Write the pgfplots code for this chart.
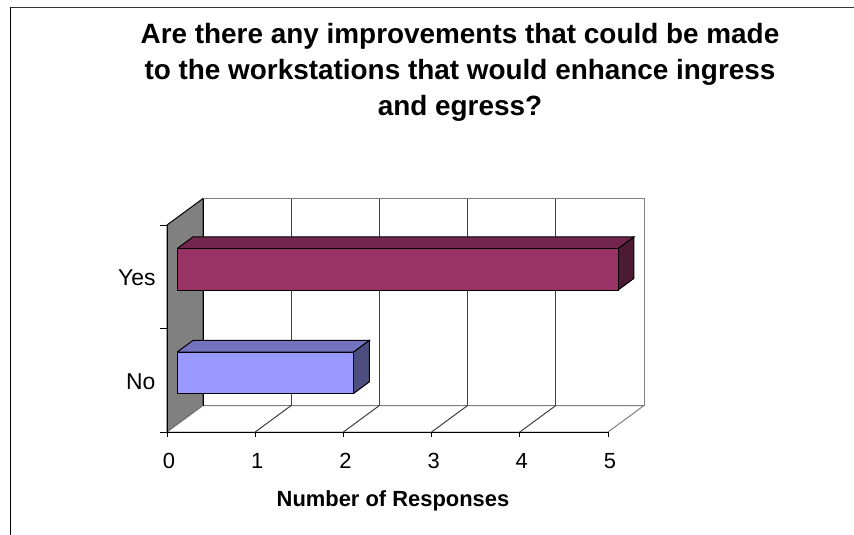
\documentclass[border=0pt]{standalone}
\usepackage{fontspec}
\setmainfont{Liberation Sans}
\usepackage{pgfplots}
\pgfplotsset{compat=1.18}
\definecolor{yesfront}{HTML}{993366}
\definecolor{yestop}{HTML}{73264D}
\definecolor{yesside}{HTML}{4D1A33}
\definecolor{nofront}{HTML}{9999FF}
\definecolor{notop}{HTML}{7373BF}
\definecolor{noside}{HTML}{4D4D80}
\definecolor{wallgray}{HTML}{808080}
\begin{document}
\begin{tikzpicture}[x=1bp,y=1bp]
\path[use as bounding box] (0,0) rectangle (854,-535);
\draw[black, line width=1bp] (10.5,-535) -- (10.5,-7.5);
\draw[black!80, line width=1.5bp] (10.5,-7.5) -- (854,-7.5);
\node[font=\fontsize{28}{34}\selectfont\bfseries, anchor=base] at (460,-44) {Are there any improvements that could be made};
\node[font=\fontsize{28}{34}\selectfont\bfseries, anchor=base] at (460,-80) {to the workstations that would enhance ingress};
\node[font=\fontsize{28}{34}\selectfont\bfseries, anchor=base] at (460,-116) {and egress?};
\node[font=\fontsize{22}{26}\selectfont\bfseries, anchor=base] at (393,-506) {Number of Responses};
\begin{axis}[
  anchor=origin, at={(167bp,-432bp)},
  x={(88.2bp,0bp)}, y={(0bp,103.5bp)}, z={(36bp,26.5bp)},
  xmin=0, xmax=5, ymin=0, ymax=2, zmin=0, zmax=1,
  hide axis, clip=false, no markers,
  every axis plot/.append style={line width=1bp, line join=miter},
]
% side wall
\addplot3[fill=wallgray, draw=black] coordinates {(0,0,0) (0,2,0) (0,2,1) (0,0,1) (0,0,0)};
% back wall
\addplot3[fill=white, draw=wallgray] coordinates {(0,0,1) (5,0,1) (5,2,1) (0,2,1) (0,0,1)};
% floor
\addplot3[fill=white, draw=wallgray] coordinates {(0,0,0) (5,0,0) (5,0,1) (0,0,1) (0,0,0)};
% grid lines on back wall and floor
\pgfplotsinvokeforeach{1,...,4}{
  \addplot3[draw=black!75] coordinates {(#1,0,1) (#1,2,1)};
  \addplot3[draw=black!75] coordinates {(#1,0,0) (#1,0,1)};
}
\addplot3[draw=black] coordinates {(0,2,1) (0,0,1)};
% front axis lines
\addplot3[draw=black] coordinates {(0,0,0) (5,0,0)};
\addplot3[draw=black] coordinates {(0,0,0) (0,2,0)};
\pgfplotsinvokeforeach{0,...,5}{
  \draw[black, line width=1bp] (axis cs:#1,0,0) -- ++(0,-5bp);
  \node[anchor=base, font=\fontsize{22}{26}\selectfont, xshift=2bp, yshift=-36bp] at (axis cs:#1,0,0) {#1};
}
\pgfplotsinvokeforeach{0,1,2}{
  \draw[black, line width=1bp] (axis cs:0,#1,0) -- ++(-7bp,0);
}
\node[anchor=base east, font=\fontsize{23}{27}\selectfont, xshift=-8bp, yshift=-9bp] at (axis cs:0,1.5,0) {Yes};
\node[anchor=base east, font=\fontsize{23}{27}\selectfont, xshift=-8bp, yshift=-9.5bp] at (axis cs:0,0.5,0) {No};
% bar: No = 2
\addplot3[fill=notop, draw=black] coordinates {(0,0.7,0.28) (2,0.7,0.28) (2,0.7,0.72) (0,0.7,0.72) (0,0.7,0.28)};
\addplot3[fill=noside, draw=black] coordinates {(2,0.3,0.28) (2,0.3,0.72) (2,0.7,0.72) (2,0.7,0.28) (2,0.3,0.28)};
\addplot3[fill=nofront, draw=black] coordinates {(0,0.3,0.28) (2,0.3,0.28) (2,0.7,0.28) (0,0.7,0.28) (0,0.3,0.28)};
% bar: Yes = 5
\addplot3[fill=yestop, draw=black] coordinates {(0,1.7,0.28) (5,1.7,0.28) (5,1.7,0.72) (0,1.7,0.72) (0,1.7,0.28)};
\addplot3[fill=yesside, draw=black] coordinates {(5,1.3,0.28) (5,1.3,0.72) (5,1.7,0.72) (5,1.7,0.28) (5,1.3,0.28)};
\addplot3[fill=yesfront, draw=black] coordinates {(0,1.3,0.28) (5,1.3,0.28) (5,1.7,0.28) (0,1.7,0.28) (0,1.3,0.28)};
\end{axis}
\end{tikzpicture}
\end{document}
